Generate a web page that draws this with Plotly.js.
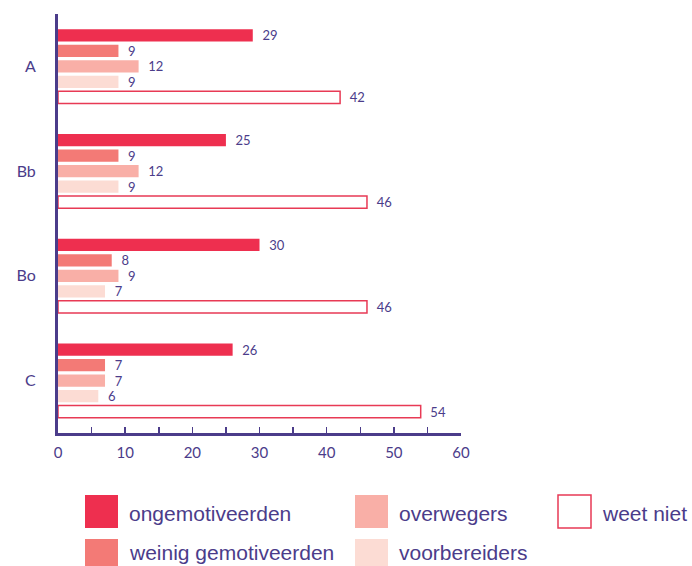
<!DOCTYPE html>
<html>
<head>
<meta charset="utf-8">
<script src="https://cdn.plot.ly/plotly-3.0.1.min.js"></script>
<style>html,body{margin:0;padding:0;background:#fff;}#chart{width:692px;height:566px;}</style>
</head>
<body>
<div id="chart"></div>
<script>
const categories = ['A', 'Bb', 'Bo', 'C'];
const seriesNames = ['ongemotiveerden', 'weinig gemotiveerden', 'overwegers', 'voorbereiders', 'weet niet'];
const ongemotiveerden = [29, 25, 30, 26];
const weinigGemotiveerden = [9, 9, 8, 7];
const overwegers = [12, 12, 9, 7];
const voorbereiders = [9, 9, 7, 6];
const weetNiet = [42, 46, 46, 54];
const xTickValues = [0, 10, 20, 30, 40, 50, 60];

const seriesValues = [ongemotiveerden, weinigGemotiveerden, overwegers, voorbereiders, weetNiet];
const fills = ['#EE2F4F', '#F37A76', '#F9AFA7', '#FCDCD4', '#FFFFFF'];
const borders = ['#EE2F4F', '#F37A76', '#F9AFA7', '#FCDCD4', '#E83A55'];
const borderW = [0, 0, 0, 0, 1.5];
const purple = '#4B3C8A';

const traces = seriesNames.map((name, i) => ({
  type: 'bar',
  orientation: 'h',
  name: name,
  y: categories,
  x: seriesValues[i],
  marker: {color: fills[i], line: {color: borders[i], width: borderW[i]}},
  text: seriesValues[i],
  texttemplate: '  %{x}',
  textposition: 'outside',
  constraintext: 'none',
  textfont: {family: 'Lato, sans-serif', size: 13, color: purple},
  cliponaxis: false,
  showlegend: false,
  hoverinfo: 'x+name'
}));

// Legend drawn manually (large swatches)
const legendPos = [
  {x: 85, y: 495}, {x: 85, y: 539},
  {x: 355, y: 495}, {x: 355, y: 539},
  {x: 558, y: 495}
];
const shapes = [];
const annotations = [];
seriesNames.forEach((name, i) => {
  const p = legendPos[i];
  shapes.push({
    type: 'rect', xref: 'paper', yref: 'paper',
    x0: (p.x - 58) / 403, x1: (p.x + 33 - 58) / 403,
    y0: (433 - p.y) / 419, y1: (433 - p.y - 33) / 419,
    fillcolor: fills[i], line: {color: borders[i], width: i === 4 ? 1.5 : 0}
  });
  annotations.push({
    xref: 'paper', yref: 'paper',
    x: (p.x + 42 - 58) / 403, y: (433 - p.y - (p.y > 520 ? 13 : 18)) / 419,
    xanchor: 'left', yanchor: 'middle', showarrow: false,
    text: name,
    font: {family: 'Liberation Sans, Arial, sans-serif', size: 21, color: purple}
  });
});

const layout = {
  width: 692, height: 566,
  margin: {l: 58, r: 231, t: 14, b: 133},
  paper_bgcolor: '#fff', plot_bgcolor: '#fff',
  barmode: 'group',
  bargap: 0.26,
  bargroupgap: 0.2,
  xaxis: {
    range: [0, 60],
    tickvals: xTickValues,
    ticks: 'inside', ticklen: 6, tickwidth: 1.5, tickcolor: purple,
    minor: {dtick: 5, tick0: 0, ticks: 'inside', ticklen: 6, tickwidth: 1.5, tickcolor: purple, showgrid: false},
    showline: true, linecolor: purple, linewidth: 3,
    showgrid: false, zeroline: false,
    tickfont: {family: 'Lato, sans-serif', size: 15, color: purple},
    ticklabelstandoff: 4
  },
  yaxis: {
    autorange: 'reversed',
    type: 'category',
    showline: true, linecolor: purple, linewidth: 3,
    ticks: '', showgrid: false, zeroline: false,
    tickfont: {family: 'Lato, sans-serif', size: 16, color: purple},
    ticklabelstandoff: 16
  },
  shapes: shapes,
  annotations: annotations,
  showlegend: false
};

Plotly.newPlot('chart', traces, layout, {displayModeBar: false, staticPlot: true});
</script>
</body>
</html>
